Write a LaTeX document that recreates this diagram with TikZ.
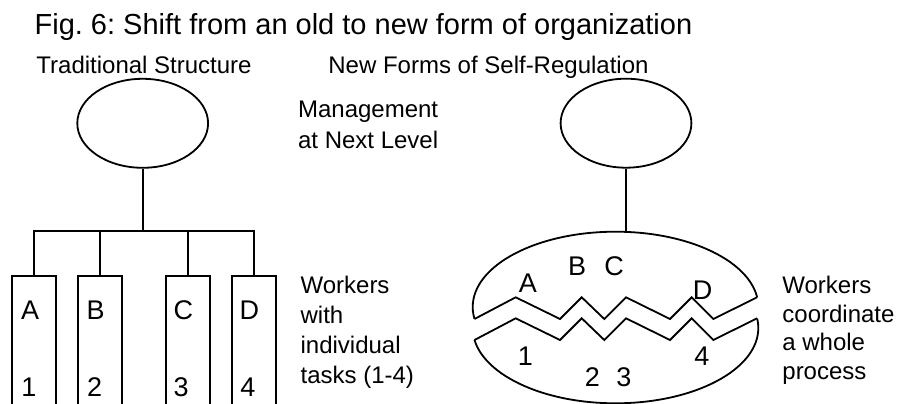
\documentclass[tikz,border=0pt]{standalone}
\usepackage{fontspec}
\setmainfont{Liberation Sans}
\usetikzlibrary{shapes.geometric}
\frenchspacing

% zig-zag cut through the process oval (upper edge)
\newcommand\ovalcut{(474.5,319) -- (515.7,297.3) -- (560,319) -- (581.7,297.3) -- (604.3,319) -- (626,297.3) -- (670,319) -- (691.7,297.3) -- (713.3,319) -- (757.1,297.3)}

\begin{document}
\begin{tikzpicture}[x=1pt,y=-1pt,
  line width=1.8pt, line join=miter,
  mgmt/.style={draw, ellipse, minimum width=130.8pt, minimum height=89pt, inner sep=0pt},
  taskbox/.style={draw, rectangle, minimum width=44pt, minimum height=150pt, inner sep=0pt},
  titletxt/.style={inner sep=0pt, anchor=base west, font=\fontsize{29}{35}\selectfont},
  txt/.style={inner sep=0pt, anchor=base west, align=left, font=\fontsize{24}{30.2}\selectfont},
  lbl/.style={inner sep=0pt, anchor=base west, font=\fontsize{27}{27}\selectfont},
]
\useasboundingbox (0,0) rectangle (897,404);
\clip (0,0) rectangle (897,404);

% headings (multi-line notes are placed by the baseline of their last line)
\node[titletxt] (title) at (33.7,35) {Fig. 6: Shift from an old to new form of organization};
\node[txt] (headL) at (35.5,74) {Traditional Structure};
\node[txt] (headR) at (327.5,74) {New Forms of Self-Regulation};
\node[txt, font=\fontsize{24}{31}\selectfont] (mgmtNote) at (297.2,148.3) {Management\\at Next Level};

% traditional structure
\node[mgmt] (mgmtL) at (142.7,123.3) {};
\node[taskbox] (boxA) at (33.7,351) {};
\node[taskbox] (boxB) at (100,351) {};
\node[taskbox] (boxC) at (187.9,351) {};
\node[taskbox] (boxD) at (253.7,351) {};
\coordinate (bus) at (142.7,231);
\draw (mgmtL.south) -- (bus);
\draw (boxA.north) |- (bus);
\draw (boxD.north) |- (bus);
\draw (boxB.north) -- (boxB.north |- bus);
\draw (boxC.north) -- (boxC.north |- bus);

\node[lbl] (lA) at (20.2,319.3) {A};
\node[lbl] (lB) at (85.6,319.3) {B};
\node[lbl] (lC) at (172.7,319.3) {C};
\node[lbl] (lD) at (238.8,319.3) {D};
\node[lbl] (n1) at (20.4,396) {1};
\node[lbl] (n2) at (86.2,396) {2};
\node[lbl] (n3) at (172.8,396) {3};
\node[lbl] (n4) at (239.5,396) {4};

\node[txt] (workL) at (299.7,383.9) {Workers\\with\\individual\\tasks (1-4)};

% self-regulation
\node[mgmt] (mgmtR) at (626,123.2) {};
\coordinate (ovalTop) at (626,231.9);
\draw (mgmtR.south) -- (ovalTop);

% upper half of the split oval
\begin{scope}
  \clip (440,319) -- \ovalcut -- (780,297.3) -- (780,200) -- (440,200) -- cycle;
  \draw (615.5,307) ellipse [x radius=142.8pt, y radius=75.3pt];
\end{scope}
\draw \ovalcut;

% lower half, moved down
\begin{scope}[shift={(0,21)}]
  \begin{scope}
    \clip (440,319) -- \ovalcut -- (780,297.3) -- (780,420) -- (440,420) -- cycle;
    \draw (615.5,307) ellipse [x radius=142.8pt, y radius=75.3pt];
  \end{scope}
  \draw \ovalcut;
\end{scope}

\node[lbl] (oA) at (518,292.7) {A};
\node[lbl] (oB) at (567.3,275.7) {B};
\node[lbl] (oC) at (603.5,275.7) {C};
\node[lbl] (oD) at (692,299.3) {D};
\node[lbl] (o1) at (517,365) {1};
\node[lbl] (o2) at (584,386.7) {2};
\node[lbl] (o3) at (615.5,386.7) {3};
\node[lbl] (o4) at (693.5,365) {4};

\node[txt, font=\fontsize{24}{28.7}\selectfont] (workR) at (781.5,379.4) {Workers\\coordinate\\a whole\\process};
\end{tikzpicture}
\end{document}
